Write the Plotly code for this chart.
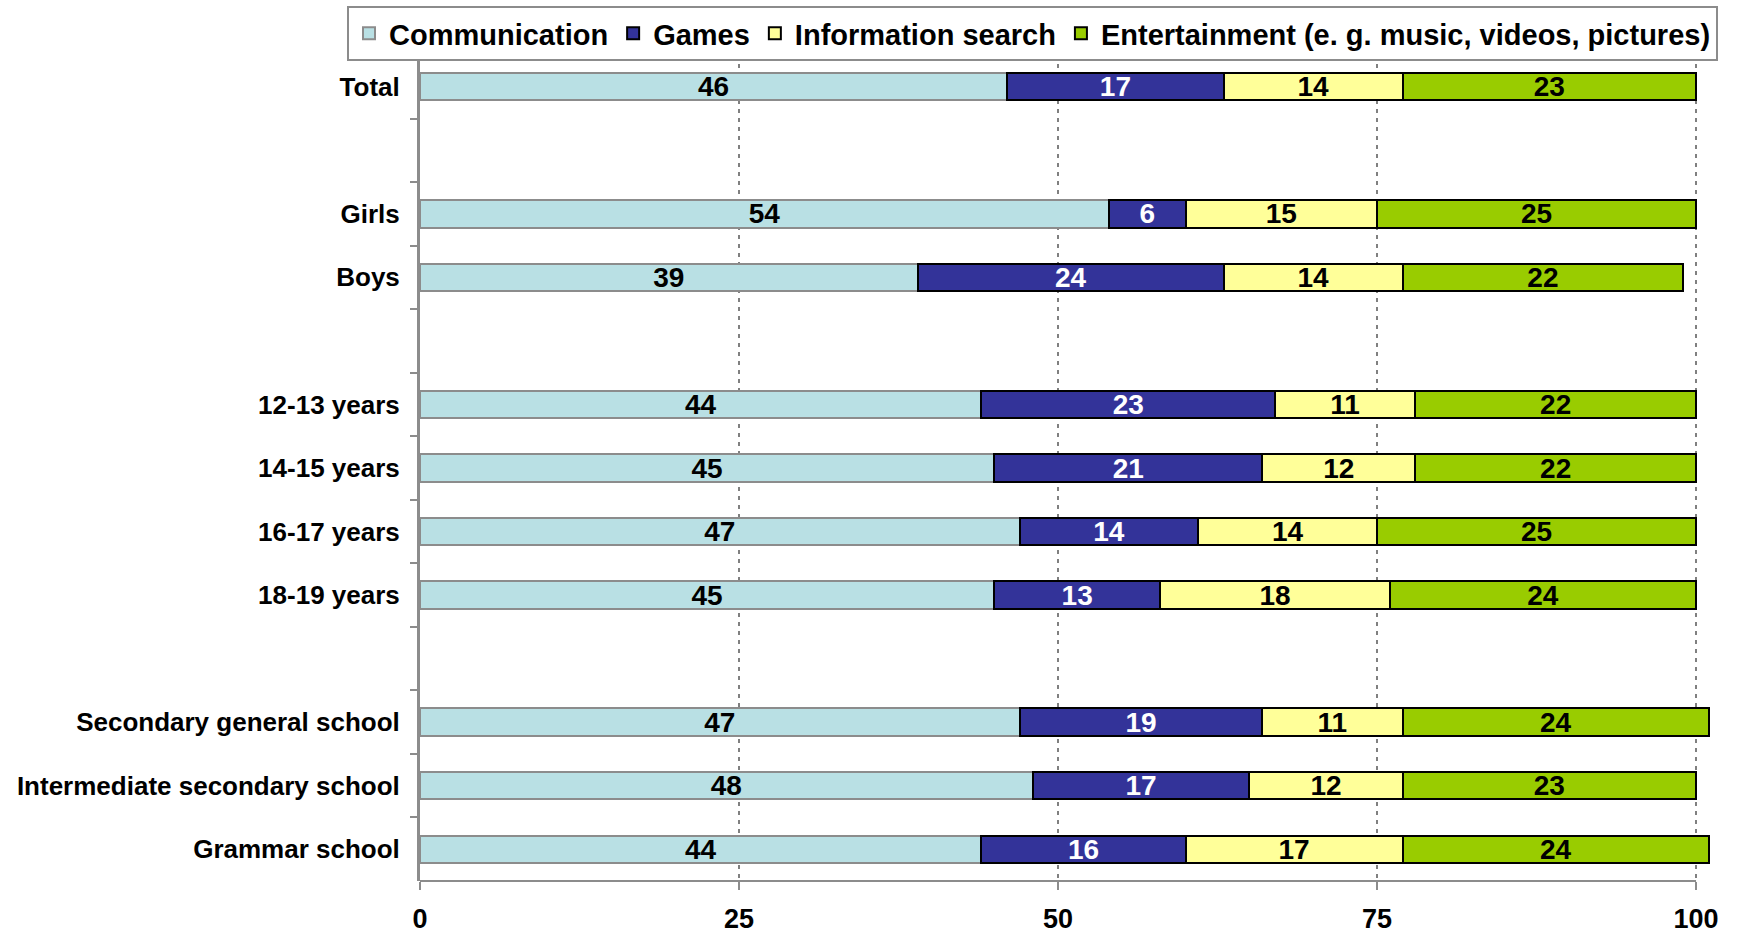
import plotly.graph_objects as go

# Row labels, top to bottom (blank strings are spacer rows between groups)
categories = [
    "Total", " ",
    "Girls", "Boys", "  ",
    "12-13 years", "14-15 years", "16-17 years", "18-19 years", "   ",
    "Secondary general school", "Intermediate secondary school", "Grammar school",
]

communication = [46, None, 54, 39, None, 44, 45, 47, 45, None, 47, 48, 44]
games = [17, None, 6, 24, None, 23, 21, 14, 13, None, 19, 17, 16]
information_search = [14, None, 15, 14, None, 11, 12, 14, 18, None, 11, 12, 17]
entertainment = [23, None, 25, 22, None, 22, 22, 25, 24, None, 24, 23, 24]

x_ticks = [0, 25, 50, 75, 100]

series = [
    ("Communication", communication, "#B9E0E4", "#8C8C8C", "black"),
    ("Games", games, "#333399", "black", "white"),
    ("Information search", information_search, "#FFFF99", "black", "black"),
    ("Entertainment (e. g. music, videos, pictures)", entertainment, "#99CC00", "black", "black"),
]

FONT = "Liberation Sans, Arial, sans-serif"
AXIS_GREY = "#8C8C8C"

# Plot area in pixels: 0..100 spans 420..1696, a little room is left past 100
L, R, T, B = 420, 26, 55, 52
X_MAX = 101.25
PLOT_W = 1738 - L - R
PLOT_H = 933 - T - B

fig = go.Figure()
for name, vals, fill, edge, txt in series:
    fig.add_trace(go.Bar(
        y=categories,
        x=vals,
        name=name,
        orientation="h",
        marker=dict(color=fill, line=dict(color=edge, width=2)),
        text=[("" if v is None else str(v)) for v in vals],
        textposition="inside",
        insidetextanchor="middle",
        textangle=0,
        constraintext="none",
        textfont=dict(family=FONT, size=28, color=txt, weight="bold"),
        cliponaxis=False,
        hoverinfo="skip",
    ))

# bottom axis line runs from 0 to 100 only
fig.add_shape(
    type="line", xref="x", yref="paper",
    x0=0, x1=100, y0=0, y1=0,
    line=dict(color=AXIS_GREY, width=2),
    layer="above",
)

fig.update_layout(
    width=1738,
    height=933,
    barmode="stack",
    bargap=0.57,
    plot_bgcolor="white",
    paper_bgcolor="white",
    margin=dict(l=L, r=R, t=T, b=B, autoexpand=False),
    font=dict(family=FONT, color="black"),
    legend=dict(
        orientation="h",
        x=(347 - L) / PLOT_W, xanchor="left",
        y=1 + (T - 6) / PLOT_H, yanchor="top",
        bordercolor="#8C8C8C", borderwidth=2,
        bgcolor="white",
        font=dict(family=FONT, size=29, color="black", weight="bold"),
        traceorder="normal",
        itemsizing="constant",
    ),
    showlegend=True,
)

fig.update_xaxes(
    range=[0, X_MAX],
    tickvals=x_ticks,
    ticktext=[str(t) for t in x_ticks],
    showgrid=True,
    gridcolor="#808080",
    gridwidth=2,
    griddash="4px,5px",
    zeroline=False,
    showline=False,
    ticks="outside",
    ticklen=8,
    tickwidth=2,
    tickcolor=AXIS_GREY,
    ticklabelstandoff=6,
    automargin=False,
    tickfont=dict(family=FONT, size=27, color="black", weight="bold"),
)

fig.update_yaxes(
    type="category",
    categoryorder="array",
    categoryarray=categories,
    autorange="reversed",
    tickson="boundaries",
    ticks="outside",
    ticklen=7,
    tickwidth=2,
    tickcolor=AXIS_GREY,
    showline=True,
    linecolor=AXIS_GREY,
    linewidth=3,
    showgrid=False,
    automargin=False,
    ticklabelstandoff=12,
    tickfont=dict(family=FONT, size=26, color="black", weight="bold"),
)

fig.write_html("out.html")
